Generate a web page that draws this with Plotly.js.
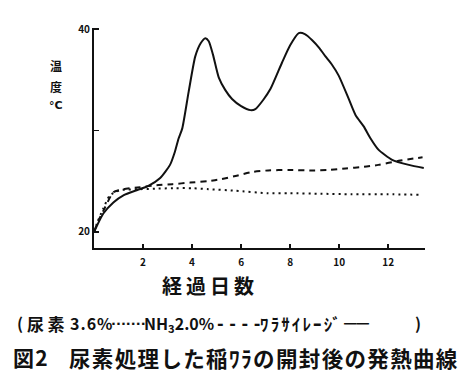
<!DOCTYPE html>
<html>
<head>
<meta charset="utf-8">
<script src="https://cdn.plot.ly/plotly-3.0.1.min.js"></script>
<style>html,body{margin:0;padding:0;background:#fff;}#chart{width:462px;height:392px;}</style>
</head>
<body>
<div id="chart"></div>
<script>
// ワラサイレージ (solid)
const silageDays = [0, 0.1, 0.38, 0.79, 1.2, 1.74, 2.2, 2.7, 3.1, 3.3, 3.45, 3.6, 3.86, 4.13, 4.35, 4.54, 4.68, 4.85, 5.09, 5.35, 5.63, 6.0, 6.38, 6.58, 6.9, 7.2, 7.67, 8.0, 8.35, 8.6, 8.9, 9.2, 9.44, 9.7, 9.98, 10.39, 10.67, 11.0, 11.28, 11.6, 12.16, 12.84, 13.45];
const silageTemp = [20.0, 20.5, 21.8, 22.9, 23.6, 24.1, 24.5, 25.3, 26.6, 27.9, 29.2, 30.2, 33.8, 37.3, 38.6, 39.1, 38.8, 37.5, 35.2, 34.0, 33.1, 32.4, 32.0, 32.1, 33.0, 34.1, 36.7, 38.4, 39.6, 39.5, 38.9, 38.1, 37.3, 36.5, 35.4, 33.1, 31.5, 30.4, 29.2, 28.1, 27.1, 26.6, 26.3];
// NH3 2.0% (dashed)
const nh3Days = [0, 0.2, 0.45, 0.79, 1.2, 1.88, 2.55, 3.2, 3.92, 4.67, 5.2, 5.77, 6.45, 7.1, 7.94, 8.9, 9.6, 10.26, 11.0, 11.6, 12.43, 13.4];
const nh3Temp = [20.0, 21.2, 22.4, 23.9, 24.2, 24.4, 24.6, 24.7, 24.85, 25.0, 25.2, 25.5, 25.9, 26.05, 26.1, 26.05, 26.1, 26.25, 26.4, 26.6, 27.0, 27.35];
// 尿素 3.6% (dotted)
const ureaDays = [0, 0.15, 0.38, 0.65, 1.06, 1.88, 2.5, 3.24, 4.0, 4.67, 5.77, 7.1, 8.0, 9.24, 10.5, 12.0, 13.25];
const ureaTemp = [20.0, 21.0, 22.3, 23.6, 24.1, 24.2, 24.25, 24.3, 24.3, 24.2, 24.05, 23.8, 23.8, 23.75, 23.7, 23.7, 23.65];

const xTicks = [2, 4, 6, 8, 10, 12];
const xTickText = ['2', '4', '6', '8', '10', '12'];
const yTicks = [20, 40];
const yTickText = ['20', '40'];

const F = '"Noto Sans CJK JP", "Noto Sans", sans-serif';
const D = '"DejaVu Sans", sans-serif';
const hs = '\u200A';

const traces = [
  {x: silageDays, y: silageTemp, mode: 'lines', name: 'ワラサイレージ', line: {color: '#111', width: 2, shape: 'spline', smoothing: 0.6}},
  {x: nh3Days, y: nh3Temp, mode: 'lines', name: 'NH3 2.0%', line: {color: '#111', width: 2, dash: '6px,5px', shape: 'spline', smoothing: 0.6}},
  {x: ureaDays, y: ureaTemp, mode: 'lines', name: '尿素3.6%', line: {color: '#111', width: 2, dash: '2px,4px', shape: 'spline', smoothing: 0.6}}
];

// plot area spans px 94..425 horizontally, 28..248 vertically
const px = v => (v - 94) / 331;
const py = v => (248 - v) / 220;

function note(text, x, y, size, anchor, fam) {
  return {xref: 'paper', yref: 'paper', x: px(x), y: py(y), xanchor: anchor || 'left', yanchor: 'middle',
          showarrow: false, text: text, font: {family: fam || F, size: size, color: '#111', weight: 'bold'}};
}

const legY = 323;
const layout = {
  width: 462, height: 392,
  margin: {l: 94, r: 37, t: 28, b: 144},
  paper_bgcolor: '#fff', plot_bgcolor: '#fff',
  showlegend: false,
  font: {family: F, color: '#111'},
  xaxis: {
    range: [0, 13.5], tickvals: xTicks, ticktext: xTickText,
    showline: true, linecolor: '#111', linewidth: 2, showgrid: false, zeroline: false,
    ticks: 'inside', ticklen: 4, tickwidth: 1.5, tickcolor: '#111', ticklabelstandoff: 4,
    tickfont: {family: F, size: 10, color: '#111', weight: 'bold'}
  },
  yaxis: {
    range: [18.4, 40.1], tickvals: yTicks, ticktext: yTickText,
    showline: true, linecolor: '#111', linewidth: 2, showgrid: false, zeroline: false,
    ticks: '',
    minor: {dtick: 10, tick0: 20, ticks: 'inside', ticklen: 5, tickwidth: 1.5, tickcolor: '#111', showgrid: false},
    tickfont: {family: F, size: 10, color: '#111', weight: 'bold'}
  },
  annotations: [
    note('温', 56, 65, 12, 'center'),
    note('度', 56, 86, 12, 'center'),
    note('°C', 56, 105, 11, 'center', D),
    note(['経','過','日','数'].join('\u2009'), 208, 285, 20, 'center'),
    note('(', 15, legY, 16),
    note('尿\u2009素', 25, legY, 17),
    note('3' + hs + '.' + hs + '6' + hs + '%', 68, legY, 16),
    note('·······', 109, legY, 13, 'left', D),
    note('NH<sub>3</sub>2.0%', 142, legY, 16),
    note('- - - -', 215, legY, 16, 'left', D),
    note(['ﾜ','ﾗ','ｻ','ｲ','ﾚ','ｰ','ｼﾞ'].join(hs + hs), 258, legY, 17),
    note('━━', 342, legY, 12.5),
    note(')', 413, legY, 16),
    note('図' + hs + '2', 11, 357, 21),
    note('尿素処理した稲ﾜﾗの開封後の発熱曲線'.split('').join(hs), 67, 357, 21.5)
  ]
};

Plotly.newPlot('chart', traces, layout, {displayModeBar: false, staticPlot: true});
</script>
</body>
</html>
